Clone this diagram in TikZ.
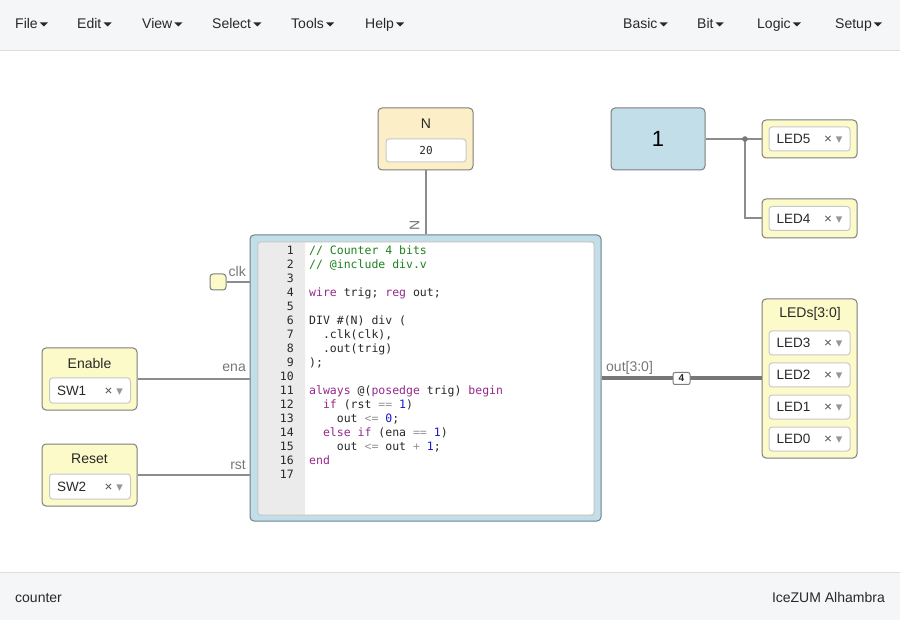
\documentclass[tikz,border=0pt]{standalone}
\usepackage{fontspec}
\setmainfont{Liberation Sans}
\newfontfamily\codefont{DejaVu Sans Mono}
\newfontfamily\symfont{DejaVu Sans}
\usetikzlibrary{positioning}

\definecolor{barbg}{RGB}{245,246,247}
\definecolor{barline}{RGB}{218,222,225}
\definecolor{txt}{RGB}{40,40,40}
\definecolor{inyellow}{RGB}{252,250,200}
\definecolor{nfill}{RGB}{252,239,200}
\definecolor{blockblue}{RGB}{193,222,233}
\definecolor{blueline}{RGB}{110,130,140}
\definecolor{boxline}{RGB}{125,125,125}
\definecolor{selline}{RGB}{200,200,200}
\definecolor{wirec}{RGB}{140,140,140}
\definecolor{busc}{RGB}{119,119,119}
\definecolor{lblc}{RGB}{119,119,119}
\definecolor{gutter}{RGB}{235,235,235}
\definecolor{cmtc}{RGB}{30,130,30}
\definecolor{kwc}{RGB}{150,40,140}
\definecolor{numc}{RGB}{25,25,200}
\definecolor{opc}{RGB}{150,150,150}

\newcommand\caret{{\symfont\fontsize{13}{13}\selectfont ▾}}
\newcommand\clearx{\textcolor{txt!80}{×}\hspace{4pt}\textcolor{opc}{\caret}}
\newcommand\cmt[1]{\textcolor{cmtc}{#1}}
\newcommand\kw[1]{\textcolor{kwc}{#1}}
\newcommand\num[1]{\textcolor{numc}{#1}}
\newcommand\op[1]{\textcolor{opc}{#1}}
% drop-down triangle after a menu entry
\newcommand\menucaret[1]{\fill[txt] ([xshift=2pt,yshift=6.5pt]#1.base east) -- ++(8,0) -- ++(-4,4) -- cycle;}

\tikzset{
  menu/.style={anchor=base west, inner sep=0pt, text=txt, font=\fontsize{14}{16}\selectfont},
  block/.style={draw=boxline, line width=1pt, rounded corners=4pt, inner sep=0pt},
  inblock/.style={block, fill=inyellow, minimum width=95pt, minimum height=62pt},
  outblock/.style={block, fill=inyellow, minimum width=95pt, minimum height=38pt},
  title/.style={text=txt, inner sep=0pt, font=\fontsize{14}{16}\selectfont},
  select/.style={draw=selline, fill=white, rounded corners=3pt, line width=1pt,
    minimum width=81pt, minimum height=25pt, inner sep=0pt, text width=66pt,
    align=left, text=txt, font=\fontsize{13.5}{16}\selectfont},
  wire/.style={draw=wirec, line width=2pt},
  bus/.style={draw=busc, line width=4pt},
  portlbl/.style={text=lblc, inner sep=0pt, font=\fontsize{14}{16}\selectfont},
  lineno/.style={anchor=base east, inner sep=0pt, text=txt, font=\codefont\fontsize{11.5}{14}\selectfont},
  codeline/.style={anchor=base west, inner sep=0pt, text=txt, font=\codefont\fontsize{11.5}{14}\selectfont},
}

\begin{document}
\begin{tikzpicture}[x=1pt,y=-1pt]
  \useasboundingbox (0,0) rectangle (900,620);
  % menu bar and status bar
  \fill[barbg] (0,0) rectangle (900,50);
  \draw[barline, line width=1pt] (0,50.5) -- (900,50.5);
  \fill[barbg] (0,573) rectangle (900,620);
  \draw[barline, line width=1pt] (0,572.5) -- (900,572.5);
  \node[menu] (mfile) at (15,29) {File};
  \node[menu] (medit) at (77,29) {Edit};
  \node[menu] (mview) at (142,29) {View};
  \node[menu] (msel) at (212,29) {Select};
  \node[menu] (mtools) at (291,29) {Tools};
  \node[menu] (mhelp) at (365,29) {Help};
  \node[menu] (mbasic) at (623,29) {Basic};
  \node[menu] (mbit) at (697,29) {Bit\hspace{4pt}};
  \node[menu] (mlogic) at (757,29) {Logic\hspace{4pt}};
  \node[menu] (msetup) at (835,29) {Setup\hspace{4pt}};
  \foreach \m in {mfile,medit,mview,msel,mtools,mhelp,mbasic,mbit,mlogic,msetup}
    {\menucaret{\m}}
  \node[menu] (project) at (15,602) {counter};
  \node[menu, anchor=base east] (board) at (885,602) {IceZUM Alhambra};

  % parameter N
  \node[block, fill=nfill, minimum width=95pt, minimum height=62pt] (nblk) at (425.5,139) {};
  \node[title] (ntitle) at (426,124) {N};
  \node[draw=selline, fill=white, rounded corners=3pt, line width=1pt, minimum width=80pt,
    minimum height=23pt, inner sep=0pt, text=txt, font=\codefont\fontsize{11}{13}\selectfont] (nval) at (426,150.5) {20};

  % code block
  \node[block, draw=blueline, fill=blockblue, minimum width=351pt, minimum height=286pt] (main) at (425.5,378) {};
  \node[draw=selline, fill=white, rounded corners=3pt, minimum width=336pt, minimum height=273pt, inner sep=0pt] (editor) at (426,378.5) {};
  \fill[gutter, rounded corners=3pt] (editor.north west) rectangle (305,515);
  \fill[gutter] (300,242) rectangle (305,515);
  \draw[selline, line width=1pt, rounded corners=3pt] (editor.north west) rectangle (editor.south east);
  \foreach \i in {1,...,17}
    \node[lineno] (ln\i) at (294,{254.2+14*(\i-1)}) {\i};
  \foreach \txt [count=\i] in {
      {\cmt{// Counter 4 bits}},
      {\cmt{// @include div.v}},
      {},
      {\kw{wire} trig; \kw{reg} out;},
      {},
      {DIV \#(N) div (},
      {\ \ .clk(clk),},
      {\ \ .out(trig)},
      {);},
      {},
      {\kw{always} @(\kw{posedge} trig) \kw{begin}},
      {\ \ \kw{if} (rst \op{==} \num{1})},
      {\ \ \ \ out \op{<=} \num{0};},
      {\ \ \kw{else} \kw{if} (ena \op{==} \num{1})},
      {\ \ \ \ out \op{<=} out \op{+} \num{1};},
      {\kw{end}},
      {}}
    \node[codeline] (code\i) at (309,{254.2+14*(\i-1)}) {\txt};

  % inputs
  \node[block, fill=inyellow, minimum width=16pt, minimum height=16pt, rounded corners=3pt] (clk) at (218,282) {};
  \node[inblock] (enable) at (89.5,379) {};
  \node[title] (entitle) at (89.5,363) {Enable};
  \node[select] (sw1) at (90,390.5) {SW1\hfill\clearx};
  \node[inblock] (reset) at (89.5,475) {};
  \node[title] (rsttitle) at (89.5,459) {Reset};
  \node[select] (sw2) at (90,486.5) {SW2\hfill\clearx};

  % constant and outputs
  \node[block, fill=blockblue, minimum width=94pt, minimum height=62pt,
    font=\fontsize{22}{24}\selectfont, text=black] (const) at (658,139) {1};
  \node[outblock] (led5) at (809.5,139) {};
  \node[select, minimum height=24pt] (led5sel) at (809.5,139) {LED5\hfill\clearx};
  \node[outblock, minimum height=39pt] (led4) at (809.5,218.5) {};
  \node[select, minimum height=24pt] (led4sel) at (809.5,218.5) {LED4\hfill\clearx};
  \node[block, fill=inyellow, minimum width=95pt, minimum height=159pt] (leds) at (809.5,378.5) {};
  \node[title] (ledstitle) at (810,314) {LEDs[3:0]};
  \foreach \n [count=\k from 0] in {3,2,1,0}
    \node[select, minimum height=24pt] (led\n sel) at (809.5,{343+32*\k}) {LED\n\hfill\clearx};

  % wires
  \draw[wire] (nblk.south) -- (main.north);
  \node[portlbl, rotate=90] (nport) at (414.5,225) {N};
  \draw[wire] (clk.east) -- (clk.east -| main.west);
  \node[portlbl, anchor=base east] (clkport) at (246,277) {clk};
  \draw[wire] (enable.east) -- (enable.east -| main.west);
  \node[portlbl, anchor=base east] (enaport) at (246,372) {ena};
  \draw[wire] (reset.east) -- (reset.east -| main.west);
  \node[portlbl, anchor=base east] (rstport) at (246,469) {rst};
  \draw[bus] (main.east |- leds.west) -- (leds.west);
  \node[portlbl, anchor=base west] (outport) at (606,371) {out[3:0]};
  \node[draw=boxline, fill=white, rounded corners=2pt, line width=1pt, inner sep=0pt,
    minimum width=17pt, minimum height=12pt, text=txt,
    font=\bfseries\fontsize{10}{10}\selectfont] (width) at (681.5,378.5) {4};
  \coordinate (split) at (745,139);
  \draw[wire] (const.east) -- (split) -- (led5.west);
  \draw[wire] (split) |- (led4.west);
  \fill[busc] (split) circle (2.8pt);
\end{tikzpicture}
\end{document}
